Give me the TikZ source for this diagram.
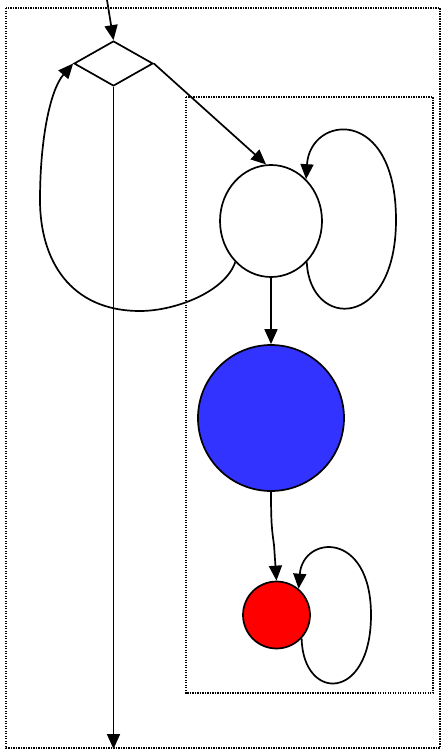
\documentclass[tikz,border=0pt]{standalone}
\usetikzlibrary{shapes.geometric,arrows.meta}
\definecolor{nodeblue}{HTML}{3333FF}
\definecolor{nodered}{HTML}{FF0000}
\tikzset{
  edge/.style={draw=black, line width=1.7pt, -{Triangle[length=15pt,width=13pt]}},
  cluster/.style={draw=black, line width=1.3pt, dash pattern=on 1.3pt off 1.2pt},
  nodeline/.style={draw=black, line width=1.7pt},
}
\begin{document}
\begin{tikzpicture}[x=1pt, y=-1pt]
  \useasboundingbox (0,0) rectangle (441,750);
  % clusters
  \draw[cluster] (6,8) rectangle (440,748);
  \draw[cluster] (186,97) rectangle (433,693);
  % nodes
  \node[nodeline, diamond, inner sep=0pt, minimum width=79pt, minimum height=45pt] (d) at (113.5,63.5) {};
  \node[nodeline, ellipse, inner sep=0pt, minimum width=102pt, minimum height=112pt] (w) at (271,221) {};
  \node[nodeline, circle, fill=nodeblue, inner sep=0pt, minimum size=146pt] (b) at (271,418) {};
  \node[nodeline, circle, fill=nodered, inner sep=0pt, minimum size=67pt] (r) at (276.5,615) {};
  \coordinate (src) at (107,0);
  \coordinate (sink) at (113.5,749);
  % edges
  \draw[edge] (src) -- (d.north);
  \draw[edge] (d.south) -- (sink);
  \draw[edge] (d.east) -- (w.95);
  \draw[edge] (w.-49) .. controls (310,330) and (396,330) .. (396,220)
                      .. controls (396,105) and (310,115) .. (w.50);
  \draw[edge] (w.-131) .. controls (225,292) and (175,311) .. (140,311)
                       .. controls (70,311) and (40,260) .. (40,200)
                       .. controls (40,140) and (50,90) .. (d.west);
  \draw[edge] (w.south) -- (b.north);
  \draw[edge] (b.south) .. controls (271,525) and (272,530) .. (274,545) -- (r.north);
  \draw[edge] (r.-43) .. controls (303,702) and (371,702) .. (371,615)
                      .. controls (371,530) and (303,535) .. (r.50);
\end{tikzpicture}
\end{document}
